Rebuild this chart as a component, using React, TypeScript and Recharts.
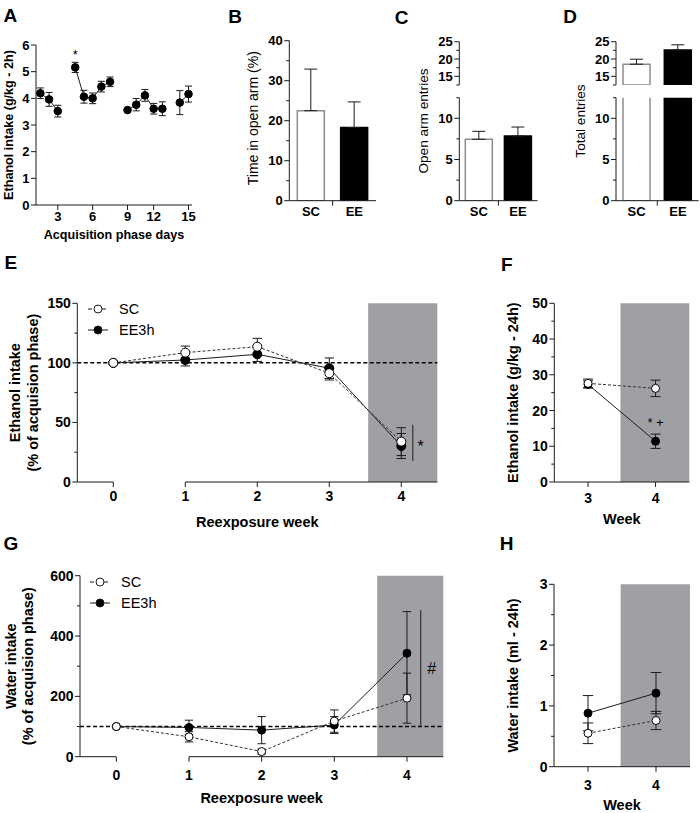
import React from "react";
import {
  LineChart,
  Line,
  BarChart,
  Bar,
  Cell,
  XAxis,
  YAxis,
  ErrorBar,
  ReferenceArea,
  ReferenceLine,
  ReferenceDot,
  Legend,
  Label,
} from "recharts";

const W = 700;
const H = 813;
const FONT = '"Liberation Sans", Arial, Helvetica, sans-serif';
const INK = "#1b1b1b";
const SHADE = "#a0a0a4";

// A - acquisition phase, ethanol intake (g/kg - 2h), one point per drinking day
const ACQ_DAYS = [1, 2, 3, 4, 5, 6, 7, 8, 9, 10, 11, 12, 13, 14, 15];
const ACQ_MEAN = [4.19, 3.96, 3.52, 5.16, 4.06, 4.0, 4.44, 4.62, 3.56, 3.76, 4.11, 3.61, 3.61, 3.84, 4.16];
const ACQ_SEM = [0.2, 0.26, 0.22, 0.19, 0.24, 0.2, 0.2, 0.18, 0.04, 0.23, 0.22, 0.2, 0.26, 0.45, 0.3];
const ACQ_BREAKS = [3, 8, 13]; // weekend pause after these days
const ACQ_TICKS = [3, 6, 9, 12, 15];
const ACQ_STARS = [4];

// B-D - elevated plus maze
const GROUPS = ["SC", "EE"];
const GROUP_FILL = ["#ffffff", "#000000"];
const GROUP_EDGE = ["#8c8c8c", "#000000"];
const OPEN_TIME = [22.5, 18.3];
const OPEN_TIME_SEM = [10.4, 6.4];
const OPEN_ENTRIES = [7.45, 7.85];
const OPEN_ENTRIES_SEM = [0.97, 1.09];
const TOTAL_ENTRIES = [18.5, 22.6];
const TOTAL_ENTRIES_SEM = [1.45, 1.5];

// E, G - reexposure, % of acquisition phase
const WEEKS = [0, 1, 2, 3, 4];
const ETOH_SC = [100, 108.6, 113.6, 91.3, 33.9];
const ETOH_SC_SEM = [0, 5.5, 7, 5.7, 11.7];
const ETOH_EE = [100, 102.4, 107.2, 95.5, 30.2];
const ETOH_EE_SEM = [0, 5, 6, 8.6, 10.5];
const WATER_SC = [100, 66, 17, 118, 194];
const WATER_SC_SEM = [0, 17, 8, 37, 83];
const WATER_EE = [100, 97, 88, 105, 343];
const WATER_EE_SEM = [0, 24, 45, 28, 138];

// F, H - absolute intake in weeks 3 and 4
const LATE_WEEKS = [3, 4];
const ETOH24_SC = [27.6, 26.2];
const ETOH24_SC_SEM = [1.2, 2.3];
const ETOH24_EE = [27.3, 11.4];
const ETOH24_EE_SEM = [1.0, 2.0];
const WATER24_SC = [0.55, 0.76];
const WATER24_SC_SEM = [0.17, 0.15];
const WATER24_EE = [0.88, 1.21];
const WATER24_EE_SEM = [0.29, 0.34];

const PANEL_TAGS: [string, number, number][] = [
  ["A", 10.3, 15],
  ["B", 235, 16.3],
  ["C", 401.7, 16.5],
  ["D", 570, 15.5],
  ["E", 10.8, 261.7],
  ["F", 506.7, 264],
  ["G", 10.8, 542.5],
  ["H", 506.7, 543.3],
];

const KEY = [
  { name: "SC", fill: "#ffffff", dash: "4 3" },
  { name: "EE3h", fill: "#000000", dash: "" },
];

type Plot = { l: number; t: number; r: number; b: number };
const AXIS_W = 20;
const AXIS_H = 20;

const marginFor = (p: Plot, xAxis = true) => ({
  left: p.l - AXIS_W,
  top: p.t,
  right: W - p.r,
  bottom: H - p.b - (xAxis ? AXIS_H : 0),
});

const steps = (from: number, to: number, step: number) => {
  const out: number[] = [];
  for (let v = from; v <= to + 1e-9; v += step) out.push(Math.round(v * 1000) / 1000);
  return out;
};
const isMultiple = (v: number, m: number) => Math.abs(v / m - Math.round(v / m)) < 1e-6;

const Sheet = ({ children }: { children: React.ReactNode }) => (
  <div style={{ position: "absolute", left: 0, top: 0 }}>{children}</div>
);

// ticks drawn by hand so minor ticks stay short and unlabeled
const yTick = (major: number, fs: number) => (p: any) => {
  const v = Number(p.payload.value);
  const big = isMultiple(v, major);
  const len = big ? 5 : 3;
  return (
    <g>
      <line x1={p.x} x2={p.x - len} y1={p.y} y2={p.y} stroke={INK} />
      {big && (
        <text x={p.x - len - 1.5} y={p.y} textAnchor="end" dominantBaseline="central" fontFamily={FONT} fontSize={fs} fontWeight={700} fill="#000">
          {v}
        </text>
      )}
    </g>
  );
};

const xTick = (gap: number, fs: number, fmt: (v: number) => string = (v) => String(v)) => (p: any) => (
  <g>
    <line x1={p.x} x2={p.x} y1={p.y} y2={p.y + 5} stroke={INK} />
    <text x={p.x} y={p.y + gap} textAnchor="middle" dominantBaseline="central" fontFamily={FONT} fontSize={fs} fontWeight={700} fill="#000">
      {fmt(Number(p.payload.value))}
    </text>
  </g>
);

const groupTick = (p: any) => {
  const v = Number(p.payload.value);
  if (v === 1) return <line x1={p.x} x2={p.x} y1={p.y} y2={p.y + 5} stroke={INK} />;
  return (
    <text x={p.x} y={p.y + 11} textAnchor="middle" dominantBaseline="central" fontFamily={FONT} fontSize={13} fontWeight={700} fill="#000">
      {GROUPS[Math.floor(v)]}
    </text>
  );
};

const yTitle = (lines: string[], gaps: number[], fs: number, bold = true, shift = 0) => (props: any) => {
  const vb = props.viewBox || {};
  const ax = vb.x + vb.width;
  const cy = vb.y + vb.height / 2 + shift;
  return (
    <g>
      {lines.map((t, i) => {
        const x = ax - gaps[i];
        return (
          <text key={i} x={x} y={cy} transform={`rotate(-90 ${x} ${cy})`} textAnchor="middle" dominantBaseline="central" fontFamily={FONT} fontSize={fs} fontWeight={bold ? 700 : 400} fill="#000">
            {t}
          </text>
        );
      })}
    </g>
  );
};

const xTitle = (text: string, gap: number, fs: number) => (props: any) => {
  const vb = props.viewBox || {};
  return (
    <text x={vb.x + vb.width / 2} y={vb.y + gap} textAnchor="middle" dominantBaseline="central" fontFamily={FONT} fontSize={fs} fontWeight={700} fill="#000">
      {text}
    </text>
  );
};

const markShape = (text: string, fs: number, dy: string) => (p: any) => (
  <text x={p.cx} y={p.cy} dy={dy} textAnchor="middle" fontFamily={FONT} fontSize={fs} fill="#000">
    {text}
  </text>
);

function SeriesKey({ rowH }: { rowH: number }) {
  return (
    <div style={{ fontFamily: FONT, fontSize: 14.5, color: "#000", lineHeight: 1 }}>
      {KEY.map((k) => (
        <div key={k.name} style={{ display: "flex", alignItems: "center", height: rowH }}>
          <svg width={20} height={12} style={{ display: "block" }}>
            <line x1={0} x2={20} y1={6} y2={6} stroke={INK} strokeDasharray={k.dash || undefined} />
            <circle cx={10} cy={6} r={4} fill={k.fill} stroke={INK} />
          </svg>
          <span style={{ marginLeft: 11 }}>{k.name}</span>
        </div>
      ))}
    </div>
  );
}

// A
const acqRows: any[] = [];
{
  let pos = 0;
  ACQ_DAYS.forEach((day, i) => {
    pos += 1;
    acqRows.push({ pos, day, mean: ACQ_MEAN[i], sem: ACQ_SEM[i] });
    if (ACQ_BREAKS.includes(day)) {
      pos += 1;
      acqRows.push({ pos, day: null, mean: null, sem: null });
    }
  });
}
const acqPos = (day: number) => acqRows.find((r) => r.day === day).pos;
const acqDay = (pos: number) => String(acqRows.find((r) => r.pos === pos)?.day ?? "");

function AcquisitionPanel() {
  const plot = { l: 36, t: 45, r: 192, b: 205 };
  return (
    <Sheet>
      <LineChart width={W} height={H} data={acqRows} margin={marginFor(plot)}>
        <XAxis dataKey="pos" type="number" domain={[0.5, 18.4]} ticks={ACQ_TICKS.map(acqPos)} interval={0} height={AXIS_H} stroke={INK} tickLine={false} tickSize={0} tickMargin={0} tick={xTick(11.7, 13, acqDay)}>
          <Label content={xTitle("Acquisition phase days", 30, 12.6)} />
        </XAxis>
        <YAxis type="number" domain={[0, 6]} ticks={steps(0, 6, 1)} interval={0} width={AXIS_W} stroke={INK} tickLine={false} tickSize={0} tickMargin={0} tick={yTick(1, 13)}>
          <Label content={yTitle(["Ethanol intake (g/kg - 2h)"], [27.5], 12.6)} />
        </YAxis>
        <Line dataKey="mean" stroke={INK} strokeWidth={1} dot={{ r: 3.8, fill: "#000", stroke: "#000" }} activeDot={false} isAnimationActive={false}>
          <ErrorBar dataKey="sem" direction="y" width={3.5} stroke={INK} strokeWidth={1} />
        </Line>
        {ACQ_STARS.map((d) => {
          const i = ACQ_DAYS.indexOf(d);
          return <ReferenceDot key={d} x={acqPos(d)} y={ACQ_MEAN[i] + ACQ_SEM[i] + 0.4} r={0} shape={markShape("*", 13, "0.57em")} />;
        })}
      </LineChart>
    </Sheet>
  );
}

// B-D: a bar below a segment's range is left out of it, one above it is clipped
const barRows = (mean: number[], sem: number[], lo = -Infinity, hi = Infinity) =>
  GROUPS.map((g, i) => ({
    x: i + 0.5,
    group: g,
    mean: mean[i] < lo ? null : mean[i],
    err: mean[i] >= lo && mean[i] <= hi ? [0, sem[i]] : null,
  }));

type SegProps = {
  plot: Plot;
  domain: [number, number];
  ticks: number[];
  major: number;
  rows: any[];
  xAxis: boolean;
  title?: (props: any) => React.ReactElement;
};

function BarSegment({ plot, domain, ticks, major, rows, xAxis, title }: SegProps) {
  return (
    <Sheet>
      <BarChart width={W} height={H} data={rows} margin={marginFor(plot, xAxis)}>
        <XAxis dataKey="x" type="number" domain={[0, 2]} ticks={[0.5, 1, 1.5]} interval={0} hide={!xAxis} height={AXIS_H} stroke={INK} tickLine={false} tickSize={0} tickMargin={0} tick={groupTick} />
        <YAxis type="number" domain={domain} ticks={ticks} interval={0} width={AXIS_W} stroke={INK} tickLine={false} tickSize={0} tickMargin={0} tick={yTick(major, 13)} allowDataOverflow>
          {title && <Label content={title} />}
        </YAxis>
        <Bar dataKey="mean" barSize={27} strokeWidth={1.5} isAnimationActive={false}>
          {rows.map((r, i) => (
            <Cell key={r.group} fill={GROUP_FILL[i]} stroke={GROUP_EDGE[i]} />
          ))}
          <ErrorBar dataKey="err" direction="y" width={6.5} stroke={INK} strokeWidth={1} />
        </Bar>
      </BarChart>
    </Sheet>
  );
}

function SplitBarPanel({ left, right, mean, sem, title, titleGap }: { left: number; right: number; mean: number[]; sem: number[]; title: string; titleGap: number }) {
  const cut = 12.5;
  return (
    <>
      <BarSegment plot={{ l: left, t: 41.7, r: right, b: 85 }} domain={[cut, 25]} ticks={steps(cut, 25, 2.5)} major={5} rows={barRows(mean, sem, cut, Infinity)} xAxis={false} />
      <BarSegment
        plot={{ l: left, t: 97.7, r: right, b: 200.7 }}
        domain={[0, cut]}
        ticks={steps(0, cut, 2.5)}
        major={5}
        rows={barRows(mean, sem, -Infinity, cut)}
        xAxis
        title={yTitle([title], [titleGap], 13.6, false, -28.2)}
      />
    </>
  );
}

// E-H
type WeekProps = {
  plot: Plot;
  weeks: number[];
  sc: number[];
  scSem: number[];
  ee: number[];
  eeSem: number[];
  xDomain: [number, number];
  yMax: number;
  yStep: number;
  yMajor: number;
  shadeFrom: number;
  yLines: string[];
  yGaps: number[];
  xLabel: string;
  xLabelGap: number;
  xTickGap: number;
  baseline?: number;
  axisPieces?: [number, number][];
  bracket?: { x: number; from: number; to: number };
  marks?: { x: number; y: number; text: string; fs: number; dy: string }[];
  legendAt?: { left: number; top: number; rowH: number };
  dotR: number;
  capW: number;
};

function WeekPanel(p: WeekProps) {
  const rows = p.weeks.map((w, i) => ({ w, sc: p.sc[i], scSem: p.scSem[i], ee: p.ee[i], eeSem: p.eeSem[i] }));
  const broken = !!p.axisPieces;
  return (
    <Sheet>
      <LineChart width={W} height={H} data={rows} margin={marginFor(p.plot)}>
        <XAxis dataKey="w" type="number" domain={p.xDomain} ticks={p.weeks} interval={0} height={AXIS_H} axisLine={!broken} stroke={INK} tickLine={false} tickSize={0} tickMargin={0} tick={xTick(p.xTickGap, 14)}>
          <Label content={xTitle(p.xLabel, p.xLabelGap, 14.5)} />
        </XAxis>
        <YAxis type="number" domain={[0, p.yMax]} ticks={steps(0, p.yMax, p.yStep)} interval={0} width={AXIS_W} stroke={INK} tickLine={false} tickSize={0} tickMargin={0} tick={yTick(p.yMajor, 14)}>
          <Label content={yTitle(p.yLines, p.yGaps, 14.5)} />
        </YAxis>
        <ReferenceArea x1={p.shadeFrom} x2={p.xDomain[1]} y1={0} y2={p.yMax} fill={SHADE} fillOpacity={1} stroke="none" />
        {p.baseline !== undefined && <ReferenceLine y={p.baseline} stroke="#000" strokeWidth={1.5} strokeDasharray="4 2.5" />}
        {(p.axisPieces || []).map(([a, b]) => (
          <ReferenceLine key={a} segment={[{ x: a, y: 0 }, { x: b, y: 0 }]} stroke={INK} strokeWidth={1} />
        ))}
        <Line dataKey="ee" stroke={INK} strokeWidth={1} dot={{ r: p.dotR, fill: "#000", stroke: "#000", strokeWidth: 1 }} activeDot={false} isAnimationActive={false}>
          <ErrorBar dataKey="eeSem" direction="y" width={p.capW} stroke={INK} strokeWidth={1} />
        </Line>
        <Line dataKey="sc" stroke="#333" strokeWidth={1} strokeDasharray="3 2" dot={{ r: p.dotR, fill: "#fff", stroke: "#000", strokeWidth: 1, strokeDasharray: "none" }} activeDot={false} isAnimationActive={false}>
          <ErrorBar dataKey="scSem" direction="y" width={p.capW} stroke={INK} strokeWidth={1} />
        </Line>
        {p.bracket && (
          <ReferenceLine segment={[{ x: p.bracket.x, y: p.bracket.from }, { x: p.bracket.x, y: p.bracket.to }]} stroke={INK} strokeWidth={1} />
        )}
        {(p.marks || []).map((m) => (
          <ReferenceDot key={m.text} x={m.x} y={m.y} r={0} shape={markShape(m.text, m.fs, m.dy)} />
        ))}
        {p.legendAt && (
          <Legend
            content={<SeriesKey rowH={p.legendAt.rowH} />}
            layout="vertical"
            align="center"
            verticalAlign="middle"
            wrapperStyle={{ left: p.legendAt.left, top: p.legendAt.top, width: "auto", height: "auto" }}
          />
        )}
      </LineChart>
    </Sheet>
  );
}

export default function App() {
  return (
    <div style={{ position: "absolute", left: 0, top: 0, width: W, height: H, background: "#fff", overflow: "hidden" }}>
      {PANEL_TAGS.map(([t, x, y]) => (
        <div key={t} style={{ position: "absolute", left: x, top: y, transform: "translate(-50%, -50%)", fontFamily: FONT, fontWeight: 700, fontSize: 19, lineHeight: 1 }}>
          {t}
        </div>
      ))}

      <AcquisitionPanel />

      <BarSegment
        plot={{ l: 289.3, t: 40.7, r: 376, b: 200.7 }}
        domain={[0, 40]}
        ticks={steps(0, 40, 5)}
        major={10}
        rows={barRows(OPEN_TIME, OPEN_TIME_SEM)}
        xAxis
        title={yTitle(["Time in open arm (%)"], [36.3], 14, false, -2.5)}
      />
      <SplitBarPanel left={459.3} right={537.5} mean={OPEN_ENTRIES} sem={OPEN_ENTRIES_SEM} title="Open arm entries" titleGap={36.3} />
      <SplitBarPanel left={616} right={698.6} mean={TOTAL_ENTRIES} sem={TOTAL_ENTRIES_SEM} title="Total entries" titleGap={36} />

      <WeekPanel
        plot={{ l: 77.3, t: 303.3, r: 437.3, b: 482 }}
        weeks={WEEKS}
        sc={ETOH_SC}
        scSem={ETOH_SC_SEM}
        ee={ETOH_EE}
        eeSem={ETOH_EE_SEM}
        xDomain={[-0.5, 4.5]}
        yMax={150}
        yStep={25}
        yMajor={50}
        shadeFrom={3.54}
        yLines={["Ethanol intake", "(% of acquision phase)"]}
        yGaps={[62.3, 44.3]}
        xLabel="Reexposure week"
        xLabelGap={39.7}
        xTickGap={13.5}
        baseline={100}
        axisPieces={[
          [-0.5, 0],
          [1, 4.5],
        ]}
        bracket={{ x: 4.16, from: 17.6, to: 48 }}
        marks={[{ x: 4.27, y: 32.7, text: "*", fs: 16, dy: "0.57em" }]}
        legendAt={{ left: 88, top: 299, rowH: 20.7 }}
        dotR={4.5}
        capW={4.7}
      />

      <WeekPanel
        plot={{ l: 554.3, t: 303.3, r: 689.3, b: 482 }}
        weeks={LATE_WEEKS}
        sc={ETOH24_SC}
        scSem={ETOH24_SC_SEM}
        ee={ETOH24_EE}
        eeSem={ETOH24_EE_SEM}
        xDomain={[2.5, 4.5]}
        yMax={50}
        yStep={5}
        yMajor={10}
        shadeFrom={3.48}
        yLines={["Ethanol intake (g/kg - 24h)"]}
        yGaps={[41]}
        xLabel="Week"
        xLabelGap={37.3}
        xTickGap={16}
        marks={[{ x: 4, y: 17, text: "* +", fs: 13, dy: "0.42em" }]}
        dotR={4}
        capW={5}
      />

      <WeekPanel
        plot={{ l: 80, t: 575.7, r: 443.3, b: 756.7 }}
        weeks={WEEKS}
        sc={WATER_SC}
        scSem={WATER_SC_SEM}
        ee={WATER_EE}
        eeSem={WATER_EE_SEM}
        xDomain={[-0.5, 4.5]}
        yMax={600}
        yStep={100}
        yMajor={200}
        shadeFrom={3.59}
        yLines={["Water intake", "(% of acquision phase)"]}
        yGaps={[69.3, 51.7]}
        xLabel="Reexposure week"
        xLabelGap={41.6}
        xTickGap={18.3}
        baseline={100}
        axisPieces={[
          [-0.5, 0],
          [1, 4.5],
        ]}
        bracket={{ x: 4.19, from: 99, to: 486 }}
        marks={[{ x: 4.34, y: 293, text: "#", fs: 16, dy: "0.35em" }]}
        legendAt={{ left: 90, top: 571, rowH: 21.6 }}
        dotR={4}
        capW={4.2}
      />

      <WeekPanel
        plot={{ l: 554, t: 584.3, r: 690, b: 766.7 }}
        weeks={LATE_WEEKS}
        sc={WATER24_SC}
        scSem={WATER24_SC_SEM}
        ee={WATER24_EE}
        eeSem={WATER24_EE_SEM}
        xDomain={[2.5, 4.5]}
        yMax={3}
        yStep={0.5}
        yMajor={1}
        shadeFrom={3.48}
        yLines={["Water intake (ml - 24h)"]}
        yGaps={[40.7]}
        xLabel="Week"
        xLabelGap={38.3}
        xTickGap={18.3}
        dotR={4}
        capW={5.3}
      />
    </div>
  );
}
